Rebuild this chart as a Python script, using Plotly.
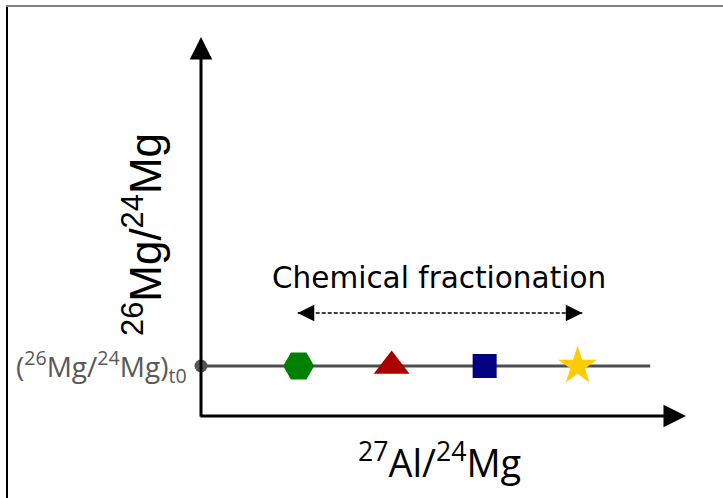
import plotly.graph_objects as go

# Isochron sketch: initial ratio and fractionated samples sitting on a flat line
initial_x = [0.0]
initial_y = [1.0]
sample_x = [1.05, 2.05, 3.05, 4.05]
sample_y = [1.0, 1.0, 1.0, 1.0]
sample_symbols = ["hexagon2", "triangle-up", "square", "star"]
sample_colors = ["#008000", "#aa0000", "#000080", "#ffcc00"]
sample_sizes = [31, 31, 24, 29]
line_x = [0.0, 4.83]
line_y = [1.0, 1.0]
frac_x = [1.04, 4.10]
frac_y = [2.06, 2.06]

W, H = 723, 498
X0_PX, XSCALE = 201, 93.0
Y0_PX, YSCALE = 416, 50.0
x_range = [-X0_PX / XSCALE, (W - X0_PX) / XSCALE]
y_range = [-(H - Y0_PX) / YSCALE, Y0_PX / YSCALE]

fig = go.Figure()

# flat line at the initial ratio
fig.add_trace(go.Scatter(x=line_x, y=line_y, mode="lines",
                         line=dict(color="#4d4d4d", width=3),
                         hoverinfo="skip", showlegend=False))
# dashed fractionation arrow shaft
fig.add_trace(go.Scatter(x=frac_x, y=frac_y, mode="lines",
                         line=dict(color="black", width=1.5, dash="4px,2px"),
                         hoverinfo="skip", showlegend=False))
# initial point on the y axis
fig.add_trace(go.Scatter(x=initial_x, y=initial_y, mode="markers",
                         marker=dict(color="#555555", size=13, opacity=1),
                         showlegend=False))
# samples
fig.add_trace(go.Scatter(x=sample_x, y=sample_y, mode="markers",
                         marker=dict(symbol=sample_symbols, color=sample_colors,
                                     size=sample_sizes, opacity=1, line=dict(width=0)),
                         showlegend=False))

annotations = []
# axes with arrowheads
x_tip = (686 - X0_PX) / XSCALE
y_tip = (Y0_PX - 37) / YSCALE
corner_x = -2 / XSCALE
corner_y = -2 / YSCALE
annotations.append(dict(x=x_tip, y=0, ax=corner_x, ay=0, xref="x", yref="y",
                        axref="x", ayref="y", showarrow=True, arrowhead=2,
                        arrowsize=1.5, arrowwidth=3, arrowcolor="black", text=""))
annotations.append(dict(x=0, y=y_tip, ax=0, ay=corner_y, xref="x", yref="y",
                        axref="x", ayref="y", showarrow=True, arrowhead=2,
                        arrowsize=1.5, arrowwidth=3, arrowcolor="black", text=""))
# heads of the dashed arrow
for tip, tail in ((frac_x[0], frac_x[0] + 0.12), (frac_x[1], frac_x[1] - 0.12)):
    annotations.append(dict(x=tip, y=frac_y[0], ax=tail, ay=frac_y[0], xref="x", yref="y",
                            axref="x", ayref="y", showarrow=True, arrowhead=2,
                            arrowsize=2.2, arrowwidth=1.5, arrowcolor="black", text=""))

annotations.append(dict(x=2.56, y=2.76, xref="x", yref="y", showarrow=False,
                        text="Chemical fractionation",
                        font=dict(family="DejaVu Sans", size=29.5, color="black")))
annotations.append(dict(x=(439 - X0_PX) / XSCALE, y=-0.88, xref="x", yref="y", showarrow=False,
                        text="<sup>27</sup>Al/<sup>24</sup>Mg",
                        font=dict(family="Open Sans", size=38, color="black")))
annotations.append(dict(x=(142 - X0_PX) / XSCALE, y=3.62, xref="x", yref="y", showarrow=False,
                        text="<sup>26</sup>Mg/<sup>24</sup>Mg", textangle=-90,
                        font=dict(family="Liberation Sans", size=44, color="black")))
annotations.append(dict(x=(189 - X0_PX) / XSCALE, y=1.0, xref="x", yref="y", showarrow=False,
                        xanchor="right",
                        text="(<sup>26</sup>Mg/<sup>24</sup>Mg)<sub>t0</sub>",
                        font=dict(family="Open Sans", size=28, color="#595959")))

# frame: left black edge and top grey edge
shapes = [
    dict(type="line", xref="paper", yref="paper", x0=7 / W, x1=7 / W, y0=0, y1=1 - 6 / H,
         line=dict(color="black", width=2)),
    dict(type="line", xref="paper", yref="paper", x0=6 / W, x1=1, y0=1 - 6 / H, y1=1 - 6 / H,
         line=dict(color="#808080", width=2)),
]

fig.update_layout(
    width=W, height=H, margin=dict(l=0, r=0, t=0, b=0),
    paper_bgcolor="white", plot_bgcolor="white",
    xaxis=dict(range=x_range, visible=False, fixedrange=True),
    yaxis=dict(range=y_range, visible=False, fixedrange=True),
    annotations=annotations, shapes=shapes, showlegend=False,
)

fig.write_html("out.html")
